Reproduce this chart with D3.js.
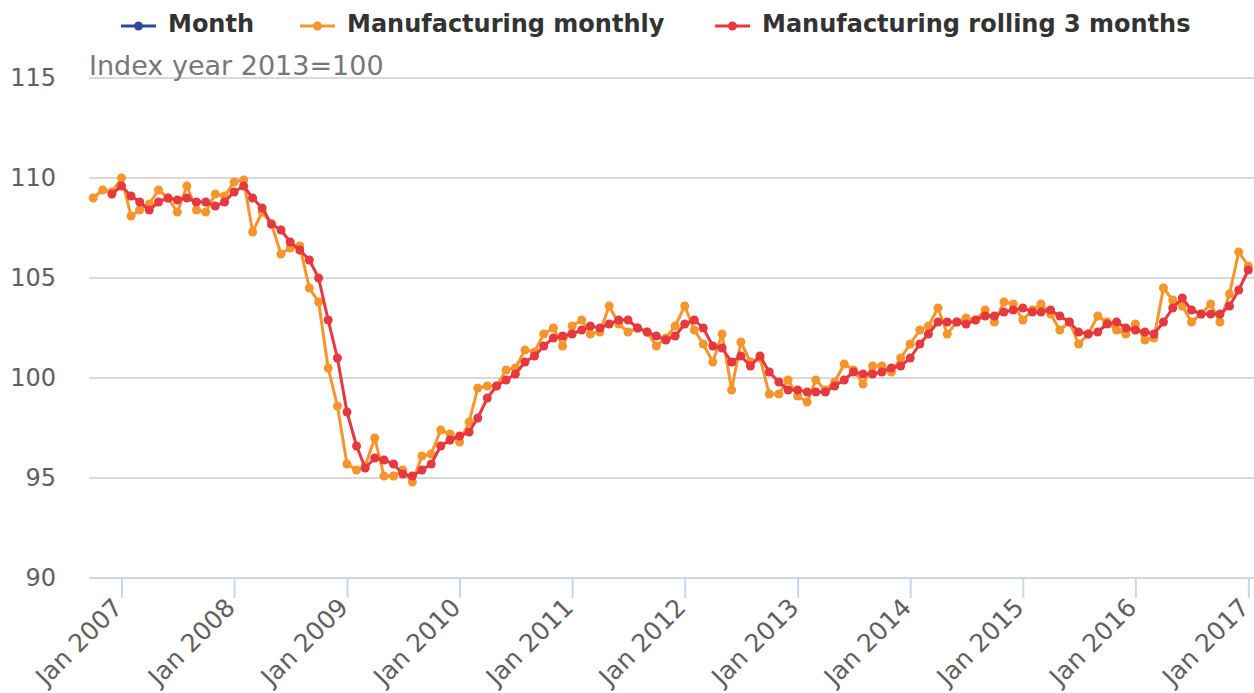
<!DOCTYPE html>
<html>
<head>
<meta charset="utf-8">
<script src="https://cdn.jsdelivr.net/npm/d3@7/dist/d3.min.js"></script>
<style>
  body { margin: 0; background: #fff; }
  text { font-family: "DejaVu Sans", sans-serif; }
</style>
</head>
<body>
<div id="chart"></div>
<script>
// months Oct 2006 .. Jan 2017
const startMonth = '2006-10-01';
const monthCount = 124;

const monthly = [
  109.0, 109.4, 109.3,
  110.0, 108.1, 108.4, 108.7, 109.4, 109.0, 108.3, 109.6, 108.4, 108.3, 109.2, 109.1,
  109.8, 109.9, 107.3, 108.3, 107.7, 106.2, 106.5, 106.6, 104.5, 103.8, 100.5, 98.6,
  95.7, 95.4, 95.6, 97.0, 95.1, 95.1, 95.4, 94.8, 96.1, 96.2, 97.4, 97.2,
  96.8, 97.8, 99.5, 99.6, 99.6, 100.4, 100.5, 101.4, 101.3, 102.2, 102.5, 101.6,
  102.6, 102.9, 102.2, 102.3, 103.6, 102.7, 102.3, 102.5, 102.3, 101.6, 102.0, 102.6,
  103.6, 102.4, 101.7, 100.8, 102.2, 99.4, 101.8, 100.8, 101.0, 99.2, 99.2, 99.9,
  99.1, 98.8, 99.9, 99.4, 99.8, 100.7, 100.4, 99.7, 100.6, 100.6, 100.3, 101.0,
  101.7, 102.4, 102.6, 103.5, 102.2, 102.8, 103.0, 102.9, 103.4, 102.8, 103.8, 103.7,
  102.9, 103.4, 103.7, 103.2, 102.4, 102.8, 101.7, 102.2, 103.1, 102.8, 102.4, 102.2,
  102.7, 101.9, 102.0, 104.5, 103.9, 103.6, 102.8, 103.2, 103.7, 102.8, 104.2, 106.3,
  105.6
];

const rolling = [
  null, null, 109.2,
  109.6, 109.1, 108.8, 108.4, 108.8, 109.0, 108.9, 109.0, 108.8, 108.8, 108.6, 108.8,
  109.3, 109.6, 109.0, 108.5, 107.7, 107.4, 106.8, 106.4, 105.9, 105.0, 102.9, 101.0,
  98.3, 96.6, 95.5, 96.0, 95.9, 95.7, 95.2, 95.1, 95.4, 95.7, 96.6, 96.9,
  97.1, 97.3, 98.0, 99.0, 99.6, 99.9, 100.2, 100.8, 101.1, 101.6, 102.0, 102.1,
  102.2, 102.4, 102.6, 102.5, 102.7, 102.9, 102.9, 102.5, 102.3, 102.1, 101.9, 102.1,
  102.7, 102.9, 102.5, 101.6, 101.5, 100.8, 101.1, 100.6, 101.1, 100.3, 99.8, 99.4,
  99.4, 99.3, 99.3, 99.3, 99.6, 99.9, 100.3, 100.2, 100.2, 100.3, 100.5, 100.6,
  101.0, 101.7, 102.2, 102.8, 102.8, 102.8, 102.7, 102.9, 103.1, 103.1, 103.3, 103.4,
  103.5, 103.3, 103.3, 103.4, 103.1, 102.8, 102.3, 102.2, 102.3, 102.7, 102.8, 102.5,
  102.4, 102.3, 102.2, 102.8, 103.5, 104.0, 103.4, 103.2, 103.2, 103.2, 103.6, 104.4,
  105.4
];

const yTicks = [90, 95, 100, 105, 110, 115];
const xTickYears = [2007, 2008, 2009, 2010, 2011, 2012, 2013, 2014, 2015, 2016, 2017];
const seriesNames = ['Month', 'Manufacturing monthly', 'Manufacturing rolling 3 months'];
const seriesColors = ['#2b4a99', '#f5952b', '#e5393f'];
const subtitle = 'Index year 2013=100';

const w = 1254;
const h = 693;
const left = 89;
const right = 1254;

const months = d3.utcMonth.range(new Date(startMonth), d3.utcMonth.offset(new Date(startMonth), monthCount));

const xScale = d3.scaleUtc()
  .domain([Date.UTC(2007, 0, 1), Date.UTC(2017, 0, 1)])
  .range([121.5, 1248.3]);

const yScale = d3.scaleLinear()
  .domain([90, 115])
  .range([578, 78]);

const svg = d3.select('#chart')
  .append('svg')
  .attr('width', w)
  .attr('height', h);

// gridlines
svg.append('g')
  .selectAll('line')
  .data(yTicks.filter(d => d > 90))
  .enter()
  .append('line')
  .attr('x1', left)
  .attr('x2', right)
  .attr('y1', d => yScale(d))
  .attr('y2', d => yScale(d))
  .attr('stroke', '#d9d9d9')
  .attr('stroke-width', 2);

// y axis labels
const yAxis = d3.axisLeft(yScale).tickValues(yTicks).tickSize(0).tickPadding(0);
svg.append('g')
  .attr('id', 'y-axis')
  .attr('transform', 'translate(56,0)')
  .call(yAxis)
  .call(g => g.select('.domain').remove())
  .call(g => g.selectAll('text')
    .attr('font-size', 24)
    .attr('fill', '#606060')
    .attr('font-family', '"DejaVu Sans", sans-serif'));

// x axis
const xAxis = d3.axisBottom(xScale)
  .tickValues(xTickYears.map(y => new Date(Date.UTC(y, 0, 1))))
  .tickFormat(d3.utcFormat('Jan %Y'))
  .tickSize(20)
  .tickSizeOuter(0);

const xg = svg.append('g')
  .attr('id', 'x-axis')
  .attr('transform', 'translate(0,578)')
  .call(xAxis);

xg.select('.domain').remove();
xg.insert('line', ':first-child')
  .attr('x1', left)
  .attr('x2', right)
  .attr('stroke', '#ccd6eb')
  .attr('stroke-width', 2);
xg.selectAll('.tick line')
  .attr('stroke', '#ccd6eb')
  .attr('stroke-width', 2);
xg.selectAll('.tick text')
  .attr('font-size', 25)
  .attr('fill', '#606060')
  .attr('font-family', '"DejaVu Sans", sans-serif')
  .attr('text-anchor', 'end')
  .attr('y', 0)
  .attr('dy', 0)
  .attr('transform', 'translate(2,31) rotate(-45)');

// series
function drawSeries(values, color) {
  const pts = months.map((m, i) => ({ date: m, value: values[i] }))
    .filter(d => d.value != null);

  const line = d3.line()
    .x(d => xScale(d.date))
    .y(d => yScale(d.value));

  svg.append('path')
    .datum(pts)
    .attr('d', line)
    .attr('fill', 'none')
    .attr('stroke', color)
    .attr('stroke-width', 3)
    .attr('stroke-linejoin', 'round');

  svg.append('g')
    .selectAll('circle')
    .data(pts)
    .enter()
    .append('circle')
    .attr('cx', d => xScale(d.date))
    .attr('cy', d => yScale(d.value))
    .attr('r', 4.5)
    .attr('fill', color);
}

drawSeries(monthly, seriesColors[1]);
drawSeries(rolling, seriesColors[2]);

// subtitle
svg.append('text')
  .attr('x', 89)
  .attr('y', 75)
  .attr('font-size', 27)
  .attr('fill', '#777777')
  .text(subtitle);

// legend
const legendX = [121, 300, 715];
const legend = svg.append('g')
  .selectAll('g')
  .data(seriesNames)
  .enter()
  .append('g')
  .attr('transform', (d, i) => 'translate(' + legendX[i] + ',26)');

legend.append('line')
  .attr('x1', 0)
  .attr('x2', 35)
  .attr('stroke', (d, i) => seriesColors[i])
  .attr('stroke-width', 3);

legend.append('circle')
  .attr('cx', 17.5)
  .attr('r', 4.5)
  .attr('fill', (d, i) => seriesColors[i]);

legend.append('text')
  .attr('x', 47)
  .attr('y', 6)
  .attr('font-size', 24)
  .attr('font-weight', 'bold')
  .attr('fill', '#333333')
  .text(d => d);
</script>
</body>
</html>
